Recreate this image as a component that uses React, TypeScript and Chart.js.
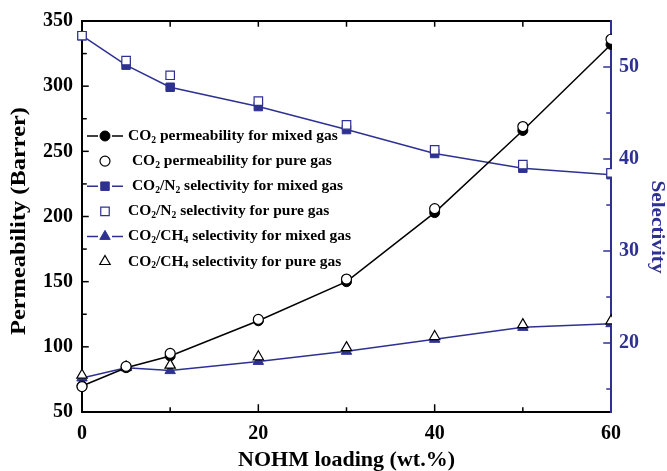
import React, { useEffect, useRef } from 'react';
import { Chart, registerables } from 'chart.js';

Chart.register(...registerables);

const loading = [0, 5, 10, 20, 30, 40, 50, 60];
const co2Mixed = [70, 84, 93, 120, 150, 203, 266, 332];
const co2Pure = [69.5, 85, 95, 121, 152, 206, 269, 336];
const n2Mixed = [53.4, 50.2, 47.8, 45.7, 43.2, 40.6, 39.0, 38.3];
const n2Pure = [53.4, 50.7, 49.1, 46.3, 43.7, 41.0, 39.4, 38.5];
const ch4Mixed = [16.2, 17.3, 17.0, 18.0, 19.1, 20.4, 21.7, 22.1];
const ch4Pure = [16.5, 17.4, 17.6, 18.5, 19.5, 20.7, 22.0, 22.4];

const xTicks = [0, 20, 40, 60];
const xMinor = [10, 30, 50];
const yTicks = [50, 100, 150, 200, 250, 300, 350];
const yMinor = [75, 125, 175, 225, 275, 325];
const y2Ticks = [20, 30, 40, 50];
const y2Minor = [15, 25, 35, 45];

const xTitle = 'NOHM loading (wt.%)';
const yTitle = 'Permeability (Barrer)';
const y2Title = 'Selectivity';

const legendLabels = [
  'CO_2 permeability for mixed gas',
  ' CO_2 permeability for pure gas',
  ' CO_2/N_2 selectivity for mixed gas',
  'CO_2/N_2 selectivity for pure gas',
  'CO_2/CH_4 selectivity for mixed gas',
  'CO_2/CH_4 selectivity for pure gas',
];

const BLUE = '#2E3192';
const FONT = '"Liberation Serif", "Times New Roman", serif';

const pts = (ys: number[]) => loading.map((x, i) => ({ x, y: ys[i] }));

function drawMarker(ctx: CanvasRenderingContext2D, style: string, x: number, y: number, r: number, fill: string, stroke: string, lw: number) {
  ctx.save();
  ctx.beginPath();
  if (style === 'circle') {
    ctx.arc(x, y, r, 0, Math.PI * 2);
  } else if (style === 'rect') {
    const s = Math.SQRT1_2 * r;
    ctx.rect(x - s, y - s, 2 * s, 2 * s);
  } else {
    const h = r;
    ctx.moveTo(x, y - h);
    ctx.lineTo(x + h * Math.sin(Math.PI / 3), y + h / 2);
    ctx.lineTo(x - h * Math.sin(Math.PI / 3), y + h / 2);
    ctx.closePath();
  }
  ctx.fillStyle = fill;
  ctx.fill();
  ctx.lineWidth = lw;
  ctx.strokeStyle = stroke;
  ctx.stroke();
  ctx.restore();
}

function drawRichText(ctx: CanvasRenderingContext2D, text: string, x: number, y: number, size: number) {
  const parts = text.split(/(_\d)/);
  let cx = x;
  for (const p of parts) {
    if (!p) continue;
    if (p.startsWith('_')) {
      ctx.font = `bold ${size * 0.62}px ${FONT}`;
      ctx.fillText(p.slice(1), cx, y + size * 0.28);
      cx += ctx.measureText(p.slice(1)).width;
    } else {
      ctx.font = `bold ${size}px ${FONT}`;
      ctx.fillText(p, cx, y);
      cx += ctx.measureText(p).width;
    }
  }
}

function drawStretchedTitle(ctx: CanvasRenderingContext2D, text: string, cx: number, cy: number, rot: number, size: number, length: number, color: string) {
  ctx.save();
  ctx.translate(cx, cy);
  ctx.rotate(rot);
  ctx.font = `bold ${size}px ${FONT}`;
  const w = ctx.measureText(text).width;
  ctx.scale(length / w, 1);
  ctx.textAlign = 'center';
  ctx.textBaseline = 'middle';
  ctx.fillStyle = color;
  ctx.fillText(text, 0, 0);
  ctx.restore();
}

const axesPlugin = {
  id: 'customAxes',
  beforeDatasetsDraw(chart: any) {
    const { ctx, chartArea: a, scales } = chart;
    const { x, y, y2 } = scales;
    ctx.save();
    ctx.lineCap = 'square';
    ctx.lineWidth = 1.5;
    ctx.strokeStyle = '#000';
    const tick = (x1: number, y1: number, x2: number, y2p: number) => {
      ctx.beginPath();
      ctx.moveTo(x1, y1);
      ctx.lineTo(x2, y2p);
      ctx.stroke();
    };
    yTicks.forEach((v) => { const p = y.getPixelForValue(v); tick(a.left, p, a.left + 6, p); });
    yMinor.forEach((v) => { const p = y.getPixelForValue(v); tick(a.left, p, a.left + 4, p); });
    xTicks.forEach((v) => { const p = x.getPixelForValue(v); tick(p, a.bottom, p, a.bottom - 7); });
    xMinor.forEach((v) => { const p = x.getPixelForValue(v); tick(p, a.bottom, p, a.bottom - 4); });
    [...xTicks, ...xMinor].forEach((v) => { const p = x.getPixelForValue(v); tick(p, a.top, p, a.top + 5); });
    ctx.strokeStyle = BLUE;
    y2Ticks.forEach((v) => { const p = y2.getPixelForValue(v); tick(a.right, p, a.right - 7, p); });
    y2Minor.forEach((v) => { const p = y2.getPixelForValue(v); tick(a.right, p, a.right - 4, p); });
    ctx.lineWidth = 2;
    ctx.lineCap = 'butt';
    ctx.strokeStyle = '#000';
    ctx.beginPath();
    ctx.moveTo(a.right, a.top);
    ctx.lineTo(a.left, a.top);
    ctx.lineTo(a.left, a.bottom);
    ctx.lineTo(a.right, a.bottom);
    ctx.stroke();
    ctx.strokeStyle = BLUE;
    ctx.beginPath();
    ctx.moveTo(a.right, a.top - 1);
    ctx.lineTo(a.right, a.bottom + 1);
    ctx.stroke();
    ctx.restore();
  },
  afterDraw(chart: any) {
    const { ctx, chartArea: a } = chart;
    // axis titles (vertical ones are drawn stretched, as in the reference)
    drawStretchedTitle(ctx, yTitle, 20, 221, -Math.PI / 2, 20, 228, '#000');
    drawStretchedTitle(ctx, y2Title, 657, 227, Math.PI / 2, 18, 93, BLUE);
    // legend
    const size = 15.5;
    const rowY0 = 136;
    const rowH = 25.1;
    const mx = a.left + 23;
    ctx.save();
    ctx.textBaseline = 'middle';
    ctx.fillStyle = '#000';
    chart.data.datasets.forEach((ds: any, i: number) => {
      const yy = rowY0 + i * rowH;
      if (ds.showLine !== false) {
        ctx.strokeStyle = ds.borderColor;
        ctx.lineWidth = 1.5;
        ctx.beginPath();
        ctx.moveTo(a.left + 5, yy);
        ctx.lineTo(mx - 7, yy);
        ctx.moveTo(mx + 7, yy);
        ctx.lineTo(a.left + 41, yy);
        ctx.stroke();
      }
      const r = ds.pointStyle === 'circle' ? 5 : 6;
      drawMarker(ctx, ds.pointStyle, mx, yy, r, ds.pointBackgroundColor, ds.pointBorderColor, ds.pointBorderWidth);
      ctx.fillStyle = '#000';
      drawRichText(ctx, legendLabels[i], a.left + 46, yy, size);
    });
    ctx.restore();
  },
};

export default function App() {
  const ref = useRef<HTMLCanvasElement | null>(null);
  useEffect(() => {
    if (!ref.current) return;
    const tickFont = { family: FONT, size: 20, weight: 'bold' as const };
    const titleFont = { family: FONT, size: 22, weight: 'bold' as const, lineHeight: 1 };
    const clip = { left: false, top: false, bottom: false, right: 1 } as any;
    const chart = new Chart(ref.current, {
      type: 'line',
      data: {
        datasets: [
          { label: 'co2Mixed', data: pts(co2Mixed), yAxisID: 'y', borderColor: '#000', borderWidth: 1.5, pointStyle: 'circle', pointRadius: 5, pointBackgroundColor: '#000', pointBorderColor: '#000', pointBorderWidth: 1, order: 1, clip },
          { label: 'co2Pure', data: pts(co2Pure), yAxisID: 'y', showLine: false, borderColor: '#000', pointStyle: 'circle', pointRadius: 5, pointBackgroundColor: '#fff', pointBorderColor: '#000', pointBorderWidth: 1.2, order: 0, clip },
          { label: 'n2Mixed', data: pts(n2Mixed), yAxisID: 'y2', borderColor: BLUE, borderWidth: 1.5, pointStyle: 'rect', pointRadius: 6, pointBackgroundColor: BLUE, pointBorderColor: BLUE, pointBorderWidth: 1, order: 1, clip },
          { label: 'n2Pure', data: pts(n2Pure), yAxisID: 'y2', showLine: false, borderColor: BLUE, pointStyle: 'rect', pointRadius: 6, pointBackgroundColor: '#fff', pointBorderColor: BLUE, pointBorderWidth: 1.2, order: 0, clip },
          { label: 'ch4Mixed', data: pts(ch4Mixed), yAxisID: 'y2', borderColor: BLUE, borderWidth: 1.5, pointStyle: 'triangle', pointRadius: 6, pointBackgroundColor: BLUE, pointBorderColor: BLUE, pointBorderWidth: 1, order: 1, clip },
          { label: 'ch4Pure', data: pts(ch4Pure), yAxisID: 'y2', showLine: false, borderColor: '#000', pointStyle: 'triangle', pointRadius: 6, pointBackgroundColor: '#fff', pointBorderColor: '#000', pointBorderWidth: 1.2, order: 0, clip },
        ],
      },
      options: {
        animation: false,
        responsive: true,
        maintainAspectRatio: false,
        layout: { padding: { top: 19, left: 0, right: 0, bottom: 0 } },
        elements: { line: { tension: 0 } },
        plugins: { legend: { display: false }, tooltip: { enabled: false } },
        scales: {
          x: {
            type: 'linear', position: 'bottom', min: 0, max: 60,
            afterFit: (s: any) => { s.height = 59; },
            afterBuildTicks: (s: any) => { s.ticks = xTicks.map((v) => ({ value: v })); },
            ticks: { font: tickFont, color: '#000', padding: 10, maxRotation: 0, autoSkip: false },
            grid: { display: false, drawTicks: false }, border: { display: false },
            title: { display: true, text: xTitle, font: titleFont, color: '#000', padding: 0 },
          },
          y: {
            type: 'linear', position: 'left', min: 50, max: 350,
            afterFit: (s: any) => { s.width = 82; },
            afterBuildTicks: (s: any) => { s.ticks = yTicks.map((v) => ({ value: v })); },
            ticks: { font: tickFont, color: '#000', padding: 9, autoSkip: false },
            grid: { display: false, drawTicks: false }, border: { display: false },
            title: { display: false },
          },
          y2: {
            type: 'linear', position: 'right', min: 12.5, max: 55,
            afterFit: (s: any) => { s.width = 56; },
            afterBuildTicks: (s: any) => { s.ticks = y2Ticks.map((v) => ({ value: v })); },
            ticks: { font: tickFont, color: BLUE, padding: 8, autoSkip: false },
            grid: { display: false, drawTicks: false }, border: { display: false },
            title: { display: false },
          },
        },
      },
      plugins: [axesPlugin],
    });
    return () => chart.destroy();
  }, []);
  return (
    <div style={{ position: 'fixed', left: 0, top: 0, width: 667, height: 471, background: '#fff' }}>
      <canvas ref={ref} />
    </div>
  );
}
